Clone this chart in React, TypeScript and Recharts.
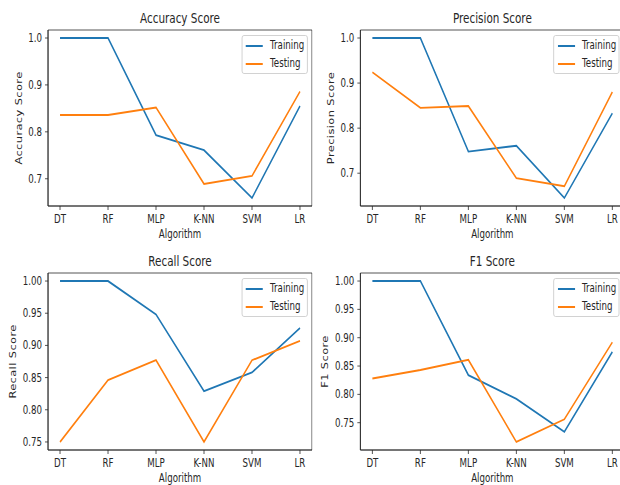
import { Legend, Line, LineChart, ReferenceArea, XAxis, YAxis } from "recharts";

const ALGORITHMS = ["DT", "RF", "MLP", "K-NN", "SVM", "LR"];

const ACC_TRAIN = [1.0, 1.0, 0.793, 0.761, 0.659, 0.855];
const ACC_TEST = [0.836, 0.836, 0.852, 0.689, 0.706, 0.886];
const PREC_TRAIN = [1.0, 1.0, 0.748, 0.761, 0.645, 0.833];
const PREC_TEST = [0.924, 0.845, 0.849, 0.689, 0.671, 0.88];
const REC_TRAIN = [1.0, 1.0, 0.948, 0.829, 0.858, 0.927];
const REC_TEST = [0.75, 0.846, 0.877, 0.75, 0.877, 0.907];
const F1_TRAIN = [1.0, 1.0, 0.834, 0.792, 0.734, 0.875];
const F1_TEST = [0.828, 0.843, 0.861, 0.716, 0.756, 0.892];

const TICKS_TENTHS = [0.7, 0.8, 0.9, 1.0];
const TICKS_TWENTIETHS = [0.75, 0.8, 0.85, 0.9, 0.95, 1.0];

const SERIES = [
  { key: "train", name: "Training", color: "#1f77b4" },
  { key: "test", name: "Testing", color: "#ff7f0e" },
];
const INK = "#262626";

// the reference was squeezed horizontally; draw wide, then scale x
const SQUEEZE = 0.76;
const FONT = 11.4;

type PanelProps = {
  title: string;
  yLabel: string;
  train: number[];
  test: number[];
  ticks: number[];
  decimals: number;
  left: number;
  top: number;
  plotHeight: number;
};

function LegendBox() {
  return (
    <div
      style={{
        border: "1px solid #cccccc",
        borderRadius: 3,
        background: "rgba(255,255,255,0.8)",
        padding: "1px 4px 1px 4.6px",
        fontSize: FONT,
        color: INK,
        boxSizing: "border-box",
        width: 87,
      }}
    >
      {SERIES.map((s) => (
        <div key={s.key} style={{ display: "flex", alignItems: "center", height: 17.7 }}>
          <svg width={22.8} height={4} style={{ marginRight: 9.1, flex: "none" }}>
            <line x1={0} y1={2} x2={22.8} y2={2} stroke={s.color} strokeWidth={1.9} />
          </svg>
          <span style={{ lineHeight: 1 }}>{s.name}</span>
        </div>
      ))}
    </div>
  );
}

function ScorePanel({ title, yLabel, train, test, ticks, decimals, left, top, plotHeight }: PanelProps) {
  const data = ALGORITHMS.map((name, i) => ({ i, name, train: train[i], test: test[i] }));
  const all = [...train, ...test];
  const lo = Math.min(...all);
  const hi = Math.max(...all);
  const pad = (hi - lo) * 0.05;
  const domain: [number, number] = [lo - pad, hi + pad];
  const labelOffset = decimals === 1 ? 24.5 : 16.4;

  return (
    <div style={{ position: "absolute", left, top }}>
      <LineChart
        width={411}
        height={30 + plotHeight + 40}
        data={data}
        margin={{ top: 30, right: 0.5, bottom: 0, left: 0 }}
      >
        <XAxis
          dataKey="i"
          type="number"
          domain={[-0.25, 5.25]}
          ticks={ALGORITHMS.map((_, i) => i)}
          tickFormatter={(i: number) => ALGORITHMS[i] ?? ""}
          interval={0}
          height={40}
          tick={{ fill: INK, fontSize: FONT }}
          tickSize={4}
          tickMargin={4.5}
          stroke={INK}
          strokeWidth={0.9}
          label={{ value: "Algorithm", position: "insideBottom", offset: 8, fill: INK, fontSize: FONT }}
        />
        <YAxis
          type="number"
          domain={domain}
          ticks={ticks}
          tickFormatter={(v: number) => v.toFixed(decimals)}
          width={63.2}
          tick={{ fill: INK, fontSize: FONT }}
          tickSize={4}
          tickMargin={4}
          stroke={INK}
          strokeWidth={0.9}
          label={{
            value: yLabel,
            angle: -90,
            position: "insideLeft",
            offset: labelOffset,
            fill: INK,
            fontSize: FONT,
            style: { textAnchor: "middle", letterSpacing: 0.4 },
          }}
        />
        <ReferenceArea
          x1={-0.25}
          x2={5.25}
          y1={domain[0]}
          y2={domain[1]}
          fill="none"
          fillOpacity={0}
          stroke={INK}
          strokeWidth={0.9}
          ifOverflow="visible"
          label={{ value: title, position: "top", offset: 7, fill: INK, fontSize: 13.7 }}
        />
        <Legend
          layout="vertical"
          align="center"
          verticalAlign="middle"
          wrapperStyle={{ left: 317.8, top: 35, width: 87 }}
          content={() => <LegendBox />}
        />
        {SERIES.map((s) => (
          <Line
            key={s.key}
            name={s.name}
            dataKey={s.key}
            stroke={s.color}
            strokeWidth={1.9}
            dot={false}
            activeDot={false}
            type="linear"
            isAnimationActive={false}
          />
        ))}
      </LineChart>
    </div>
  );
}

export default function App() {
  return (
    <div
      style={{
        position: "absolute",
        left: 0,
        top: 0,
        width: 620,
        height: 485,
        overflow: "hidden",
        background: "#ffffff",
        fontFamily: "'DejaVu Sans', sans-serif",
      }}
    >
      <div
        style={{
          position: "relative",
          width: 822,
          height: 485,
          transform: `scaleX(${SQUEEZE})`,
          transformOrigin: "0 0",
        }}
      >
        <ScorePanel title="Accuracy Score" yLabel="Accuracy Score" train={ACC_TRAIN} test={ACC_TEST}
          ticks={TICKS_TENTHS} decimals={1} left={0} top={0} plotHeight={176} />
        <ScorePanel title="Precision Score" yLabel="Precision Score" train={PREC_TRAIN} test={PREC_TEST}
          ticks={TICKS_TENTHS} decimals={1} left={410.5} top={0} plotHeight={176} />
        <ScorePanel title="Recall Score" yLabel="Recall Score" train={REC_TRAIN} test={REC_TEST}
          ticks={TICKS_TWENTIETHS} decimals={2} left={0} top={243} plotHeight={177} />
        <ScorePanel title="F1 Score" yLabel="F1 Score" train={F1_TRAIN} test={F1_TEST}
          ticks={TICKS_TWENTIETHS} decimals={2} left={410.5} top={243} plotHeight={177} />
      </div>
    </div>
  );
}
